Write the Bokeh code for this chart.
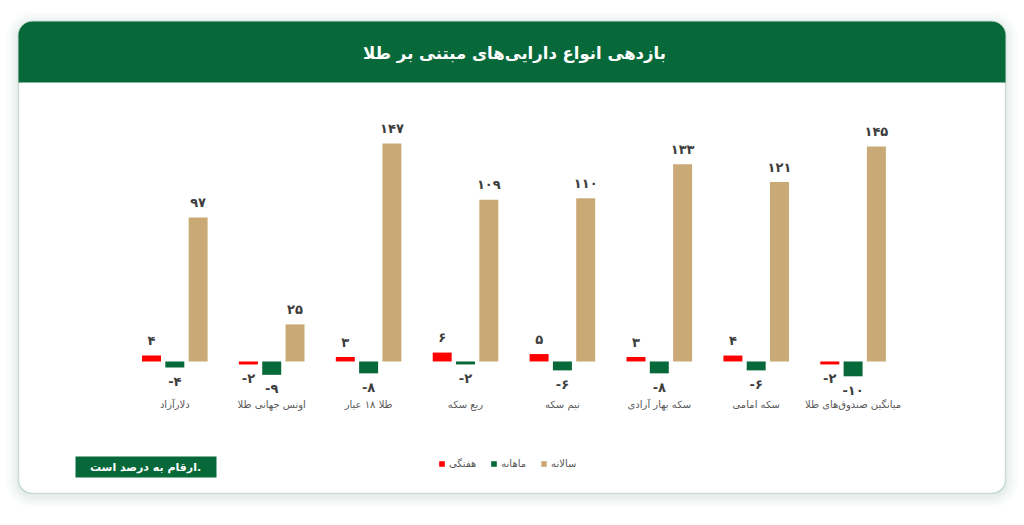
from bokeh.plotting import figure
from bokeh.models import ColumnDataSource, Range1d, BoxAnnotation, Legend, LegendItem, Label
from bokeh.core.properties import value
from bokeh.embed import file_html
from bokeh.resources import INLINE
from bokeh.transform import dodge

# ---------------- data ----------------
title_text = "بازدهی انواع دارایی‌های مبتنی بر طلا"
categories = ["دلارآزاد", "اونس جهانی طلا", "طلا ۱۸ عیار", "ربع سکه", "نیم سکه",
              "سکه بهار آزادی", "سکه امامی", "میانگین صندوق‌های طلا"]
series_names = ["هفتگی", "ماهانه", "سالانه"]
weekly = [4, -2, 3, 6, 5, 3, 4, -2]
monthly = [-4, -9, -8, -2, -6, -8, -6, -10]
yearly = [97, 25, 147, 109, 110, 133, 121, 145]
note_text = "ارقام به درصد است."

colors = ["#ff0000", "#07693a", "#c9aa77"]
GREEN = "#07693a"
FONT = "DejaVu Sans"

FA = str.maketrans("0123456789", "۰۱۲۳۴۵۶۷۸۹")


def fa_num(v):
    return ("-" if v < 0 else "") + str(abs(v)).translate(FA)


x = list(range(len(categories)))
src = ColumnDataSource(dict(
    x=x, zero=[0] * len(x), cat=categories,
    weekly=weekly, monthly=monthly, yearly=yearly,
))

p = figure(width=1024, height=525, output_backend="svg", toolbar_location=None,
           x_range=Range1d(-1.799, 8.769), y_range=Range1d(-110.6, 243.4),
           x_axis_type=None, y_axis_type=None, min_border=0,
           background_fill_color="white", border_fill_color="white",
           outline_line_color=None)
p.xgrid.visible = False
p.ygrid.visible = False

# ---------------- card ----------------
for i, a in enumerate([0.035, 0.03, 0.025, 0.02]):
    g = 3 * (i + 1)
    p.add_layout(BoxAnnotation(left=18 - g, right=1005 + g, top=21 - g + 2, bottom=493 + g + 2,
                               left_units="canvas", right_units="canvas",
                               top_units="canvas", bottom_units="canvas",
                               fill_color="#3f6f55", fill_alpha=a, line_color=None,
                               border_radius=14 + g, level="underlay"))
p.add_layout(BoxAnnotation(left=18, right=1005, top=21, bottom=493,
                           left_units="canvas", right_units="canvas",
                           top_units="canvas", bottom_units="canvas",
                           fill_color="white", fill_alpha=1, line_color="#5f9c7a",
                           line_width=1.5, border_radius=14, level="underlay"))
p.add_layout(BoxAnnotation(left=18, right=1005, top=21, bottom=82,
                           left_units="canvas", right_units="canvas",
                           top_units="canvas", bottom_units="canvas",
                           fill_color=GREEN, fill_alpha=1, line_color=None,
                           border_radius=(14, 14, 0, 0), level="underlay"))
p.add_layout(Label(x=514, y=525 - 53, x_units="screen", y_units="screen",
                   text=title_text, text_color="white", text_font=FONT,
                   text_font_style="bold", text_font_size="16.5px",
                   text_align="center", text_baseline="middle"))

# ---------------- bars ----------------
offsets = [-0.2405, 0.0, 0.2405]
cols = ["weekly", "monthly", "yearly"]
renderers = []
for off, col, c in zip(offsets, cols, colors):
    r = p.vbar(x=dodge("x", off, range=p.x_range), top=col, bottom=0, width=0.196,
               source=src, fill_color=c, line_color=None)
    renderers.append(r)
    vals = src.data[col]
    lab = ColumnDataSource(dict(
        x=[xi + off for xi in x], y=vals, t=[fa_num(v) for v in vals],
        yo=[14 if v < 0 else -15 for v in vals]))
    p.text(x="x", y="y", text="t", y_offset="yo", source=lab,
           text_font=value(FONT), text_font_style="bold", text_font_size="13px",
           text_color="#3d3d3d", text_align="center", text_baseline="middle")

p.text(x="x", y="zero", text="cat", y_offset=43, source=src,
       text_font=value(FONT), text_font_size="10px", text_color="#5a5a5a",
       text_align="center", text_baseline="middle")

# ---------------- legend ----------------
legend = Legend(items=[LegendItem(label=n, renderers=[r]) for n, r in zip(series_names, renderers)],
                orientation="horizontal", location=(438, 56), padding=0, margin=0,
                spacing=14, glyph_width=7, glyph_height=7, label_standoff=4,
                label_height=12, label_text_font=FONT, label_text_font_size="10px",
                label_text_color="#5a5a5a", border_line_color=None,
                background_fill_alpha=0)
p.add_layout(legend)

# ---------------- note ----------------
p.add_layout(BoxAnnotation(left=75, right=216, top=456, bottom=477,
                           left_units="canvas", right_units="canvas",
                           top_units="canvas", bottom_units="canvas",
                           fill_color=GREEN, fill_alpha=1, line_color=None))
p.add_layout(Label(x=145, y=525 - 466.5, x_units="screen", y_units="screen",
                   text=note_text, text_color="white", text_font=FONT,
                   text_font_style="bold", text_font_size="11px",
                   text_align="center", text_baseline="middle"))

open("out.html", "w").write(file_html(p, INLINE))
